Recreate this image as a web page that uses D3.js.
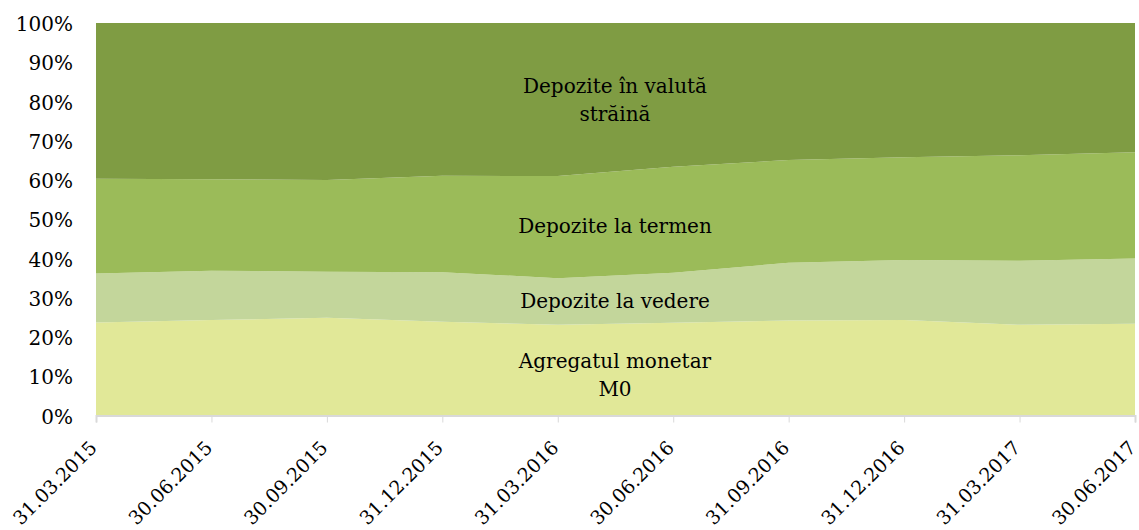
<!DOCTYPE html>
<html>
<head>
<meta charset="utf-8">
<script src="https://cdn.jsdelivr.net/npm/d3@7/dist/d3.min.js"></script>
<style>
  body { margin: 0; background: #fff; }
  svg text { font-family: "DejaVu Serif", "Liberation Serif", serif; fill: #000; }
</style>
</head>
<body>
<div id="chart"></div>
<script>
// dates on the x axis
const dates = ["31.03.2015", "30.06.2015", "30.09.2015", "31.12.2015", "31.03.2016",
               "30.06.2016", "31.09.2016", "31.12.2016", "31.03.2017", "30.06.2017"];

// shares in %
const m0      = [23.7, 24.3, 24.9, 23.9, 23.1, 23.6, 24.2, 24.3, 23.1, 23.4];
const vedere  = [12.5, 12.6, 11.7, 12.6, 11.9, 12.8, 14.7, 15.3, 16.3, 16.6];
const termen  = [24.1, 23.3, 23.4, 24.6, 26.0, 27.0, 26.2, 26.2, 26.9, 27.1];
const valuta  = [39.7, 39.8, 40.0, 38.9, 39.0, 36.6, 34.9, 34.2, 33.7, 32.9];

const yTicks = [0, 0.1, 0.2, 0.3, 0.4, 0.5, 0.6, 0.7, 0.8, 0.9, 1];

const keys = ["m0", "vedere", "termen", "valuta"];
const colors = { m0: "#e1e898", vedere: "#c3d69b", termen: "#9bbb59", valuta: "#7f9c43" };

const rows = dates.map((d, i) => ({
  date: d, m0: m0[i], vedere: vedere[i], termen: termen[i], valuta: valuta[i]
}));

const W = 1139, H = 530;
const mLeft = 96, mRight = 1135, mTop = 23, mBottom = 415.5;

const svg = d3.select("#chart").append("svg")
  .attr("width", W).attr("height", H);

const x = d3.scalePoint().domain(dates).range([mLeft, mRight]);
const y = d3.scaleLinear().domain([0, 1]).range([mBottom, mTop]);

const series = d3.stack().keys(keys).offset(d3.stackOffsetExpand)(rows);

const area = d3.area()
  .x(d => x(d.data.date))
  .y0(d => y(d[0]))
  .y1(d => y(d[1]));

svg.append("g").selectAll("path")
  .data(series)
  .enter().append("path")
  .attr("d", area)
  .attr("fill", d => colors[d.key]);

// x axis
const xAxis = svg.append("g")
  .attr("transform", `translate(0,${mBottom})`)
  .call(d3.axisBottom(x).tickSize(7).tickFormat(""));
xAxis.select(".domain").attr("stroke", "#d9d9d9").attr("stroke-width", 2);
xAxis.selectAll(".tick line").attr("stroke", "#d9d9d9");

svg.append("g").selectAll("text")
  .data(dates)
  .enter().append("text")
  .attr("transform", d => `translate(${x(d) + 2},449) rotate(-45)`)
  .attr("text-anchor", "end")
  .style("font-size", "19px")
  .text(d => d);

// y axis labels
svg.append("g").selectAll("text")
  .data(yTicks)
  .enter().append("text")
  .attr("x", 73)
  .attr("y", d => y(d))
  .attr("dy", "0.4em")
  .attr("text-anchor", "end")
  .style("font-size", "20px")
  .text(d => d3.format(".0%")(d));

// series labels
const labels = [
  { lines: ["Depozite în valută", "străină"], y: 86 },
  { lines: ["Depozite la termen"], y: 226 },
  { lines: ["Depozite la vedere"], y: 301 },
  { lines: ["Agregatul monetar", "M0"], y: 361 }
];
labels.forEach(l => {
  const t = svg.append("text")
    .attr("x", 615)
    .attr("y", l.y)
    .attr("text-anchor", "middle")
    .style("font-size", "20px");
  l.lines.forEach((s, i) => {
    t.append("tspan").attr("x", 615).attr("dy", i === 0 ? "0.35em" : 28).text(s);
  });
});
</script>
</body>
</html>
